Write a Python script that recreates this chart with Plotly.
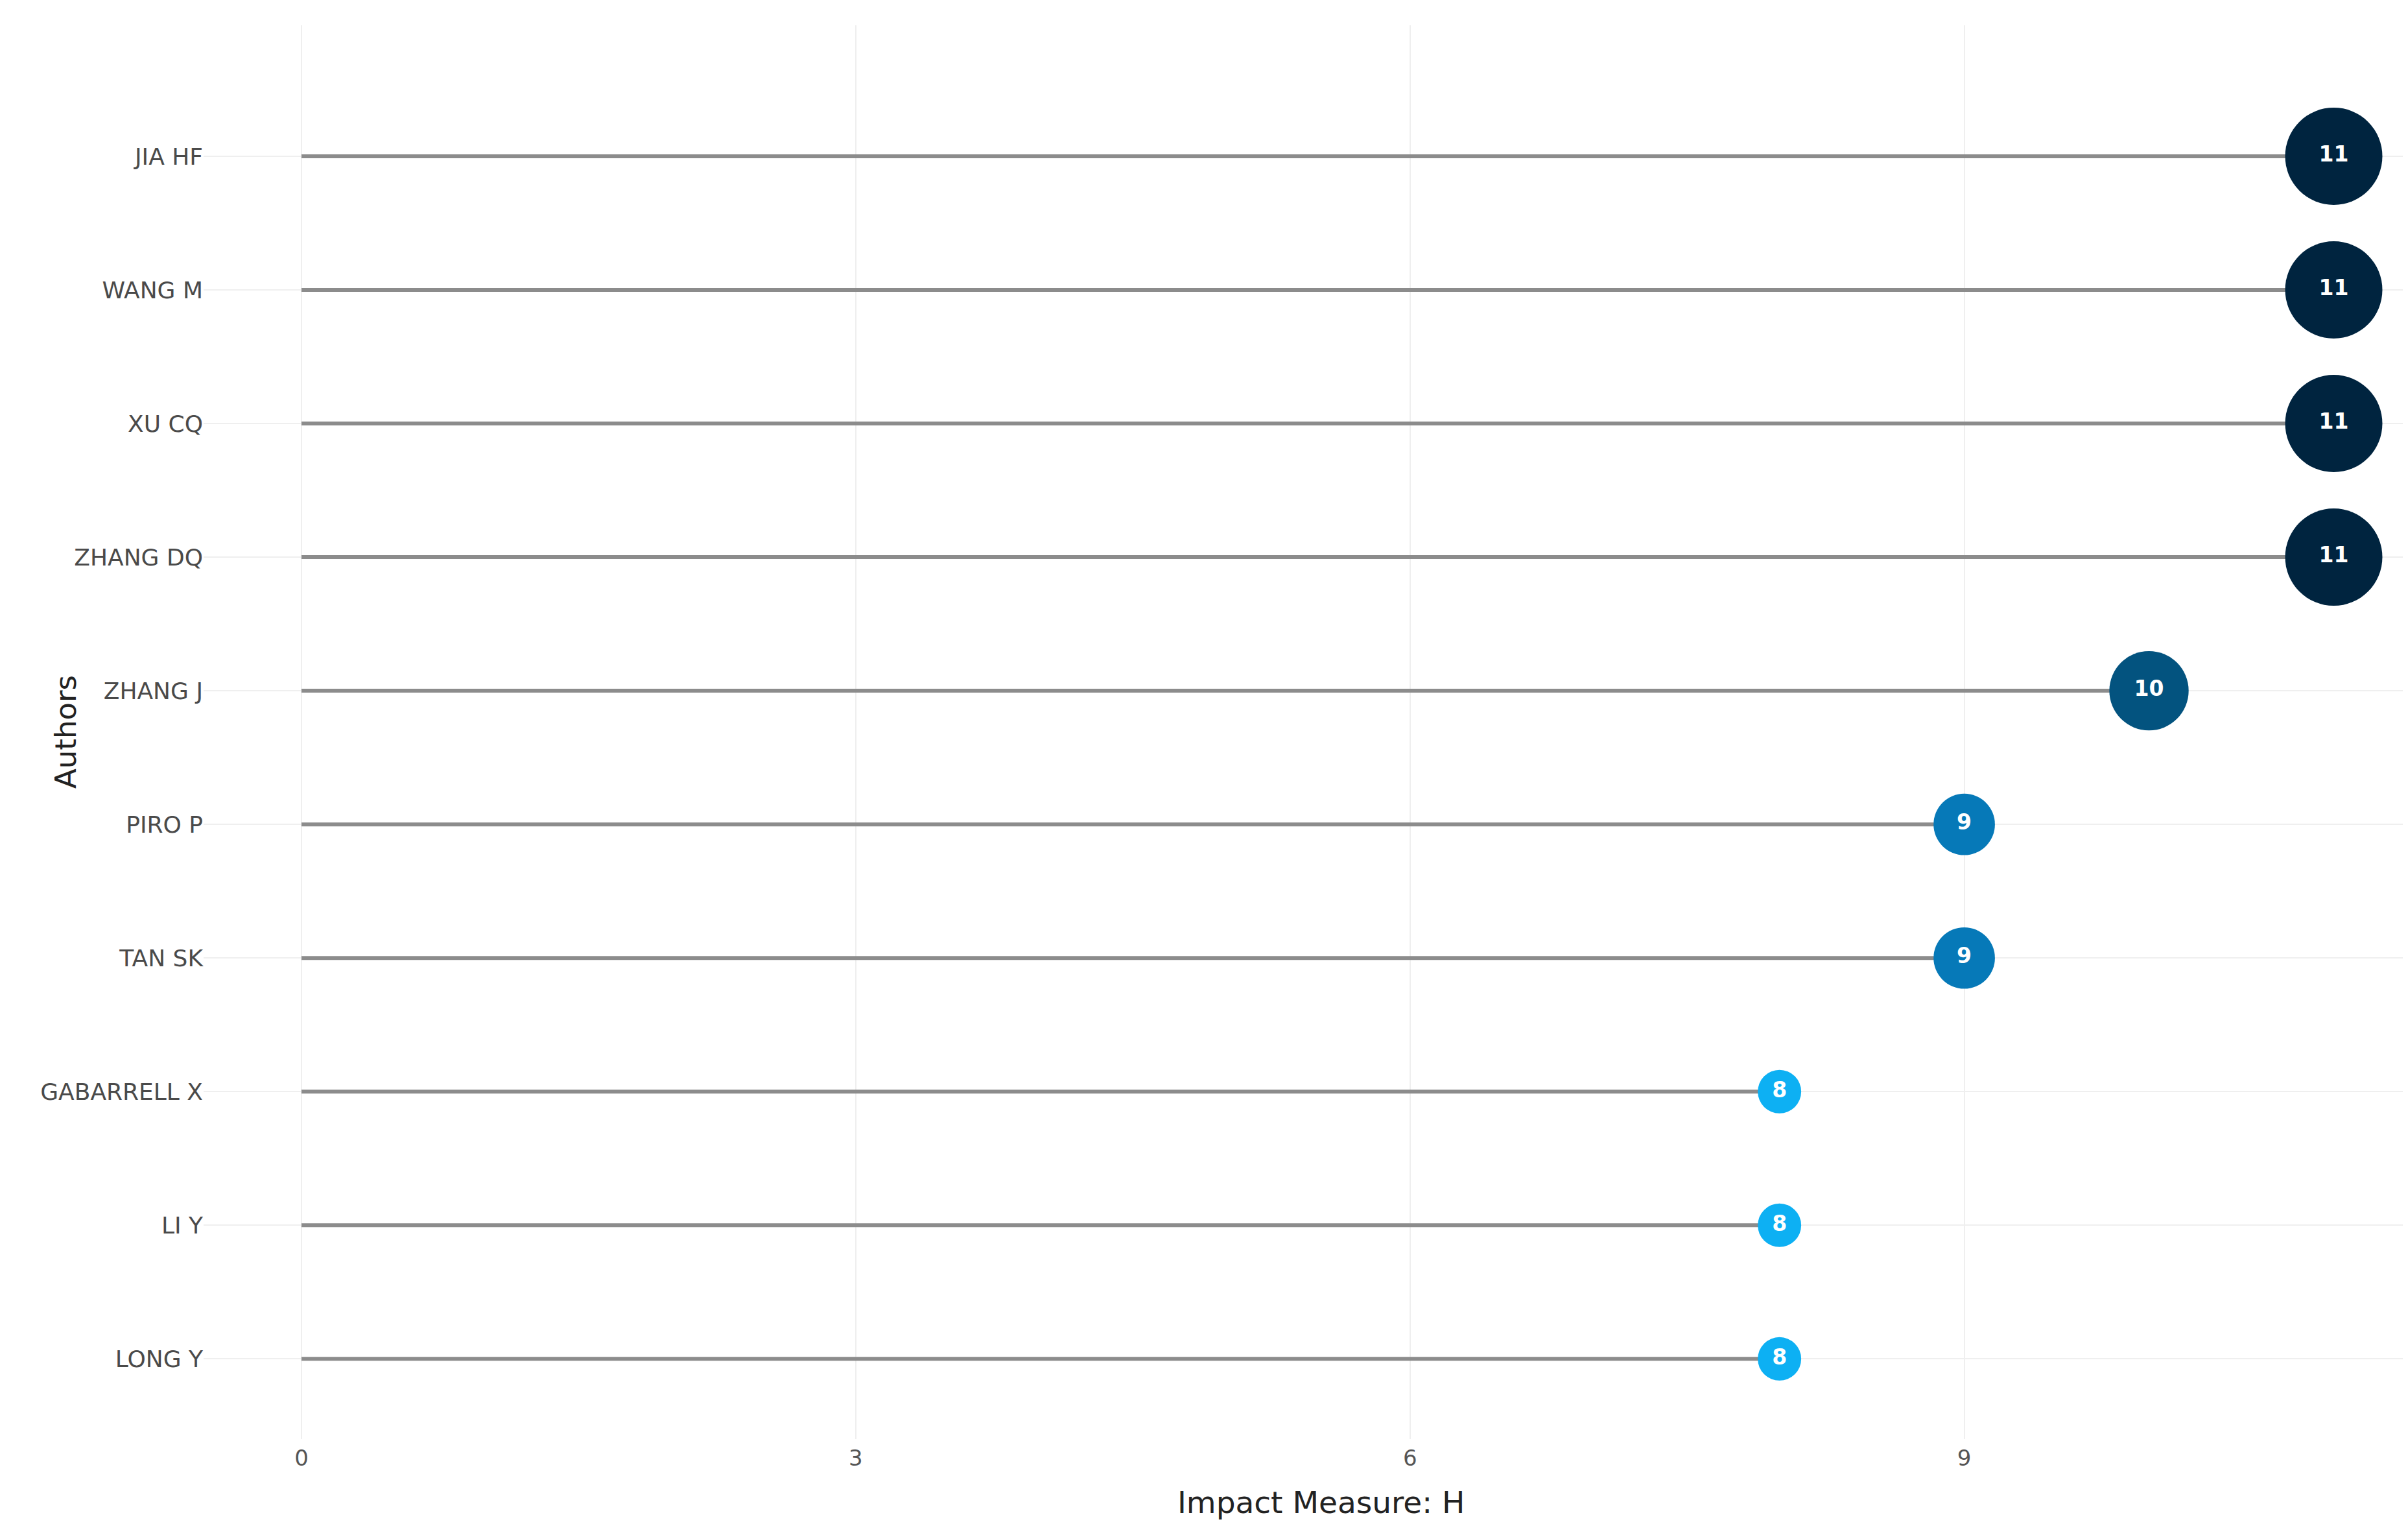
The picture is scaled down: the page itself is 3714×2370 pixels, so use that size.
import plotly.graph_objects as go

# authors, top to bottom, with their H index
authors = ["JIA HF", "WANG M", "XU CQ", "ZHANG DQ", "ZHANG J",
           "PIRO P", "TAN SK", "GABARRELL X", "LI Y", "LONG Y"]
h_index = [11, 11, 11, 11, 10, 9, 9, 8, 8, 8]
x_ticks = [0, 3, 6, 9]

W, H = 3714, 2370
FONT = "DejaVu Sans"


def main():
    # stems from 0 to the value, one trace with gaps
    sx, sy = [], []
    for a, h in zip(authors, h_index):
        sx += [0, h, None]
        sy += [a, a, None]

    lo, hi = min(h_index), max(h_index)
    sizes = [67 + (h - lo) / (hi - lo) * 83 for h in h_index]

    fig = go.Figure()
    fig.add_trace(go.Scatter(
        x=sx, y=sy, mode="lines",
        line=dict(color="#8c8c8c", width=6),
        hoverinfo="skip", showlegend=False,
    ))
    fig.add_trace(go.Scatter(
        x=h_index, y=authors, mode="markers+text",
        text=[str(h) for h in h_index],
        textposition="middle center",
        textfont=dict(family=FONT, size=33, color="white", weight="bold"),
        marker=dict(
            size=sizes, sizemode="diameter", opacity=1,
            color=h_index, cmin=lo, cmax=hi,
            colorscale=[[0, "#0db0f3"], [1 / 3, "#0679b8"],
                        [2 / 3, "#03537f"], [1, "#00243f"]],
            line=dict(width=0),
        ),
        showlegend=False,
    ))

    fig.update_layout(
        width=W, height=H,
        margin=dict(l=306, r=0, t=31, b=159),
        paper_bgcolor="white", plot_bgcolor="white",
        font=dict(family=FONT, color="#444444", size=36),
        xaxis=dict(
            range=[-0.53, 11.43], tickvals=x_ticks,
            showgrid=True, gridcolor="#efefef", gridwidth=2,
            zeroline=False, showline=False, ticks="",
            ticklabelstandoff=6,
            tickfont=dict(size=34, color="#555555"),
        ),
        yaxis=dict(
            type="category", categoryorder="array",
            categoryarray=authors[::-1],
            range=[-0.6, 9.98],
            showgrid=True, gridcolor="#efefef", gridwidth=2,
            zeroline=False, showline=False, ticks="",
            tickfont=dict(size=36, color="#4a4a4a"),
        ),
        annotations=[
            dict(text="Impact Measure: H", xref="paper", yref="paper",
                 x=0.5056, y=-0.0445, xanchor="center", yanchor="middle",
                 showarrow=False, font=dict(size=47, color="#222222")),
            dict(text="Authors", xref="paper", yref="paper",
                 x=-0.0625, y=0.5, xanchor="center", yanchor="middle",
                 textangle=-90, showarrow=False,
                 font=dict(size=45, color="#222222")),
        ],
    )
    fig.write_html("out.html")


if __name__ == '__main__':
    main()
